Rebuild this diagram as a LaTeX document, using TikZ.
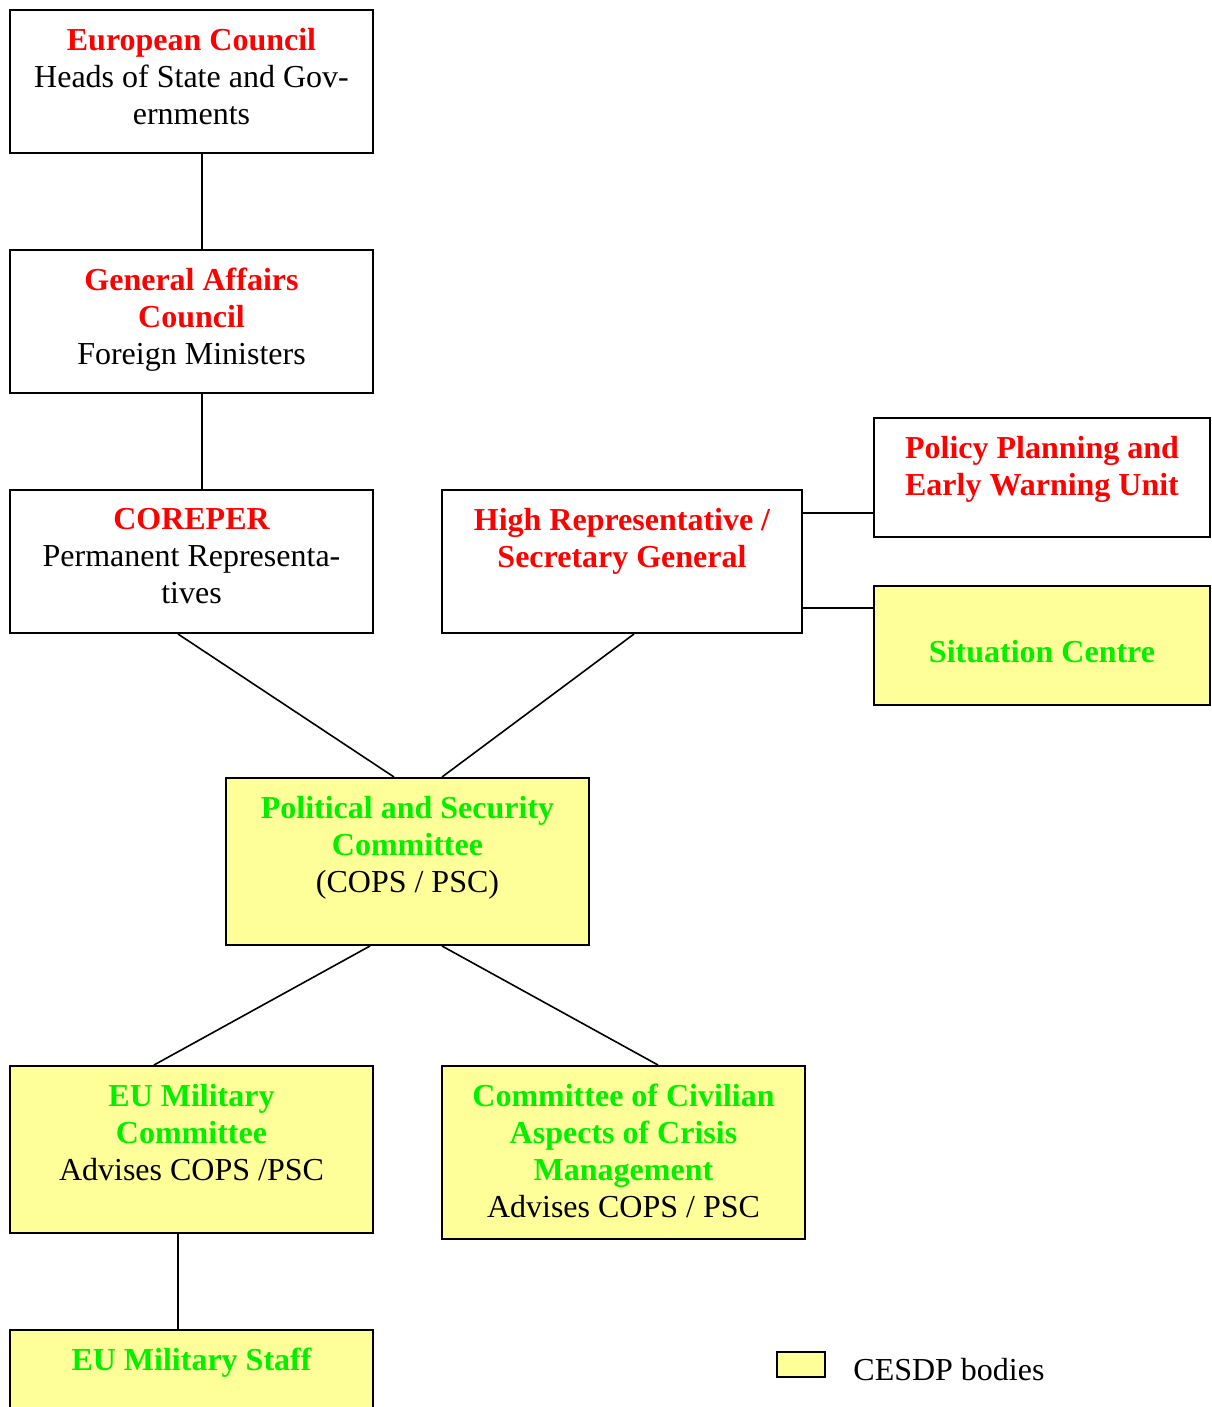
\documentclass[tikz,border=0pt]{standalone}
\usepackage{fontspec}
\setmainfont{Liberation Serif}
\usetikzlibrary{positioning}
\definecolor{cesdp}{HTML}{FFFF99}
\definecolor{hdred}{HTML}{FF0000}
\definecolor{hdgreen}{HTML}{00F000}

\begin{document}
\begin{tikzpicture}[x=0.5pt, y=-0.5pt,
  box/.style={draw, line width=1pt, anchor=north west, minimum width=181.5pt, minimum height=71.5pt, inner sep=0pt},
  body/.style={box, fill=cesdp},
  txt/.style={anchor=north, align=center, inner sep=0pt, font=\fontsize{16}{18.5}\selectfont},
  link/.style={line width=0.8pt}]

  \useasboundingbox (0,0) rectangle (1211,1407);
  \clip (0,0) rectangle (1211,1407);

  % Left column
  \node[box] (EC) at (9,9) {};
  \node[box] (GAC) at (9,249) {};
  \node[box] (CRP) at (9,489) {};

  % High representative and its units
  \node[box, minimum width=180pt] (HR) at (441,489) {};
  \node[box, minimum width=168pt, minimum height=59.5pt] (PU) at (873,417) {};
  \node[body, minimum width=168pt, minimum height=59.5pt] (SC) at (873,585) {};

  % CESDP bodies
  \node[body, minimum height=83.5pt] (PSC) at (225,777) {};
  \node[body, minimum height=83.5pt] (EUMC) at (9,1065) {};
  \node[body, minimum height=86.5pt] (CIV) at (441,1065) {};
  \node[body, minimum height=60pt] (EUMS) at (9,1329) {};

  % Texts
  \node[txt, below=9.5pt of EC.north] (ECt) {\textbf{\color{hdred}European Council}\\Heads of State and Gov-\\ernments};
  \node[txt, below=9.5pt of GAC.north] (GACt) {\textbf{\color{hdred}General Affairs}\\\textbf{\color{hdred}Council}\\Foreign Ministers};
  \node[txt, below=9.5pt of CRP.north] (CRPt) {\textbf{\color{hdred}COREPER}\\Permanent Representa-\\tives};
  \node[txt, below=9.5pt of HR.north] (HRt) {\textbf{\color{hdred}High Representative /}\\\textbf{\color{hdred}Secretary General}};
  \node[txt, below=9.5pt of PU.north] (PUt) {\textbf{\color{hdred}Policy Planning and}\\\textbf{\color{hdred}Early Warning Unit}};
  \node[txt, below=27.5pt of SC.north] (SCt) {\textbf{\color{hdgreen}Situation Centre}};
  \node[txt, below=9.5pt of PSC.north] (PSCt) {\textbf{\color{hdgreen}Political and Security}\\\textbf{\color{hdgreen}Committee}\\(COPS / PSC)};
  \node[txt, below=9.5pt of EUMC.north] (EUMCt) {\textbf{\color{hdgreen}EU Military}\\\textbf{\color{hdgreen}Committee}\\Advises COPS /PSC};
  \node[txt, below=9.5pt of CIV.north] (CIVt) {\textbf{\color{hdgreen}Committee of Civilian}\\\textbf{\color{hdgreen}Aspects of Crisis}\\\textbf{\color{hdgreen}Management}\\Advises COPS / PSC};
  \node[txt, below=9.5pt of EUMS.north] (EUMSt) {\textbf{\color{hdgreen}EU Military Staff}};

  % Legend
  \node[draw, line width=1pt, fill=cesdp, minimum width=24pt, minimum height=12.5pt, inner sep=0pt] (LEG) at (801,1364.5) {};
  \node[txt, anchor=west, right=13.5pt of LEG, yshift=-2.5pt] (LEGt) {CESDP bodies};

  % Connectors
  \draw[link] ([xshift=5.25pt]EC.south) -- ([xshift=5.25pt]GAC.north);
  \draw[link] ([xshift=5.25pt]GAC.south) -- ([xshift=5.25pt]CRP.north);
  \draw[link] ([xshift=-6.75pt]CRP.south) -- ([xshift=-6.75pt]PSC.north);
  \draw[link] ([xshift=6pt]HR.south) -- ([xshift=17.25pt]PSC.north);
  \draw[link] ([xshift=-18.75pt]PSC.south) -- ([xshift=-18.75pt]EUMC.north);
  \draw[link] ([xshift=17.25pt]PSC.south) -- ([xshift=17.25pt]CIV.north);
  \draw[link] ([xshift=-6.75pt]EUMC.south) -- ([xshift=-6.75pt]EUMS.north);
  \draw[link] ([yshift=24.25pt]HR.east) -- ([yshift=24.25pt]HR.east -| PU.west);
  \draw[link] ([yshift=-23.25pt]HR.east) -- ([yshift=-23.25pt]HR.east -| SC.west);

\end{tikzpicture}
\end{document}
